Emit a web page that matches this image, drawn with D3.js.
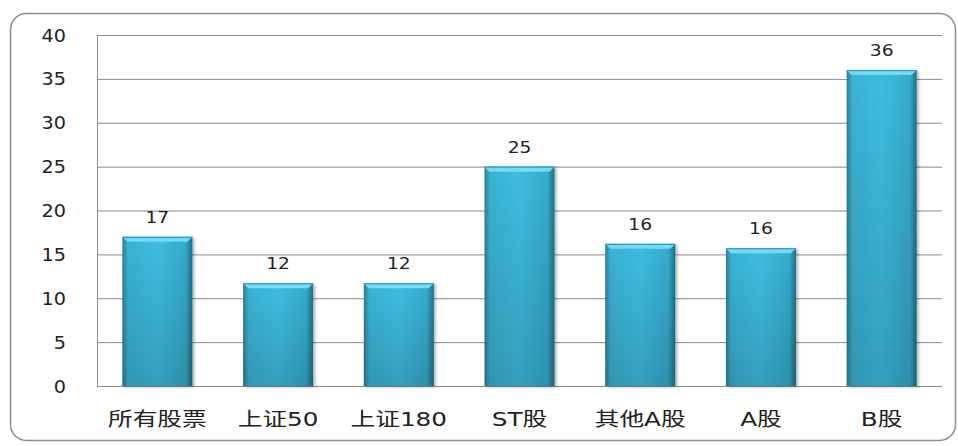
<!DOCTYPE html>
<html><head><meta charset="utf-8">
<script src="https://cdn.jsdelivr.net/npm/d3@7"></script>
<style>body{margin:0;background:#fff}svg{display:block}</style>
</head><body><svg id="c" width="958" height="446"></svg>
<script>
const categories = ["所有股票","上证50","上证180","ST股","其他A股","A股","B股"];
const values = [17, 11.7, 11.7, 25, 16.2, 15.7, 36];
const labels = ["17","12","12","25","16","16","36"];
const yTicks = [0,5,10,15,20,25,30,35,40];

const svg = d3.select("#c");
const m = {l:97, r:942, t:35, b:386};
const font = "'DejaVu Sans','Noto Sans CJK SC',sans-serif";

svg.append("rect").attr("x",10.5).attr("y",13.5).attr("width",945).attr("height",427)
  .attr("rx",16).attr("fill","#fff").attr("stroke","#8c8c8c").attr("stroke-width",1.5);

const defs = svg.append("defs");
const gh = defs.append("linearGradient").attr("id","gh").attr("x1","0").attr("x2","1").attr("y1","0").attr("y2","0");
[[0,"#2a8099"],[0.08,"#3ab2d4"],[0.5,"#3dbde0"],[0.9,"#37abcb"],[1,"#236e84"]].forEach(s=>gh.append("stop").attr("offset",s[0]).attr("stop-color",s[1]));
const gv = defs.append("linearGradient").attr("id","gv").attr("x1","0").attr("x2","0").attr("y1","0").attr("y2","1");
[[0,"#000",0],[1,"#000",0.16]].forEach(s=>gv.append("stop").attr("offset",s[0]).attr("stop-color",s[1]).attr("stop-opacity",s[2]));
const flt = defs.append("filter").attr("id","sh").attr("x","-20%").attr("y","-20%").attr("width","150%").attr("height","140%");
flt.append("feDropShadow").attr("dx",2).attr("dy",1).attr("stdDeviation",1.5).attr("flood-color","#000").attr("flood-opacity",0.3);

const x = d3.scaleBand().domain(categories).range([m.l,m.r]).paddingInner(0.42).paddingOuter(0.21);
const y = d3.scaleLinear().domain([0,40]).range([m.b,m.t]);

// gridlines
svg.append("g").selectAll("line").data(yTicks).join("line")
  .attr("x1",m.l).attr("x2",m.r).attr("y1",d=>y(d)+0.5).attr("y2",d=>y(d)+0.5)
  .attr("stroke","#8a8a8a").attr("stroke-width",1);
svg.append("line").attr("x1",m.l+0.5).attr("x2",m.l+0.5).attr("y1",m.t).attr("y2",m.b)
  .attr("stroke","#8a8a8a");

// y labels
svg.append("g").selectAll("text").data(yTicks).join("text")
  .attr("transform",d=>`translate(66,${y(d)+6.5}) scale(1.13,1)`).attr("text-anchor","end")
  .attr("font-family",font).attr("font-size",17).attr("fill","#222").text(d=>d);

// bars
const bars = svg.append("g").selectAll("g").data(categories).join("g");
bars.append("rect").attr("x",d=>x(d)).attr("y",(d,i)=>y(values[i])).attr("width",x.bandwidth())
  .attr("height",(d,i)=>y(0)-y(values[i])).attr("fill","url(#gh)").attr("filter","url(#sh)");
bars.append("rect").attr("x",d=>x(d)).attr("y",(d,i)=>y(values[i])).attr("width",x.bandwidth())
  .attr("height",(d,i)=>y(0)-y(values[i])).attr("fill","url(#gv)");
// top bevel
bars.append("path").attr("d",(d,i)=>{
  const x0=x(d), x1=x0+x.bandwidth(), t=y(values[i]), b=5;
  return `M${x0},${t}L${x1},${t}L${x1-b},${t+b}L${x0+b},${t+b}Z`;
}).attr("fill","#72daf3");
bars.append("line").attr("x1",d=>x(d)).attr("x2",d=>x(d)+x.bandwidth())
  .attr("y1",(d,i)=>y(values[i])+0.5).attr("y2",(d,i)=>y(values[i])+0.5).attr("stroke","#2a8fb0").attr("stroke-width",1);

// value labels
svg.append("g").selectAll("text").data(categories).join("text")
  .attr("transform",(d,i)=>`translate(${x(d)+x.bandwidth()/2},${y(values[i])-14}) scale(1.13,1)`).attr("text-anchor","middle")
  .attr("font-family",font).attr("font-size",16.5).attr("fill","#222").text((d,i)=>labels[i]);

// category labels
svg.append("g").selectAll("text").data(categories).join("text")
  .attr("transform",d=>`translate(${x(d)+x.bandwidth()/2},426) scale(1.3,1)`).attr("text-anchor","middle")
  .attr("font-family",font).attr("font-size",19).attr("fill","#222").text(d=>d);
</script></body></html>
